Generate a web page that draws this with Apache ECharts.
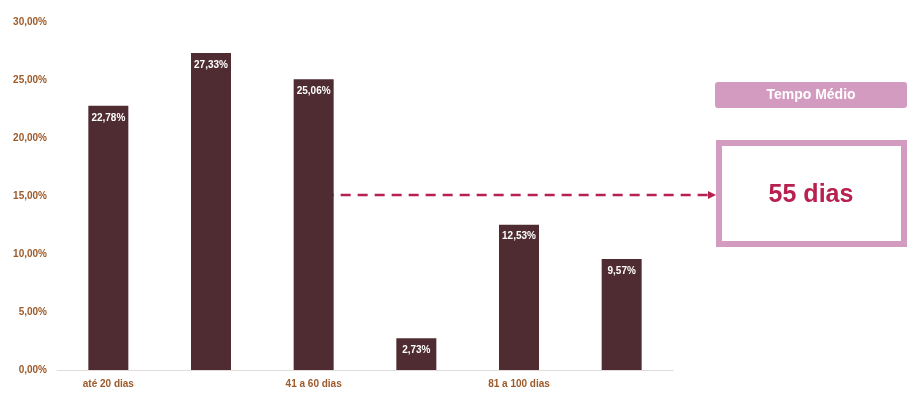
<!DOCTYPE html>
<html><head><meta charset="utf-8">
<script src="https://cdn.jsdelivr.net/npm/echarts@6/dist/echarts.min.js"></script>
<style>html,body{margin:0;padding:0;background:#fff}#c{width:920px;height:407px}</style>
</head><body><div id="c"></div>
<script>
const categories = ['até 20 dias','21 a 40 dias','41 a 60 dias','61 a 80 dias','81 a 100 dias','mais de 100 dias'];
const values = [22.78, 27.33, 25.06, 2.73, 12.53, 9.57];
const meanPct = 15; // height of the annotation line
const meanText = '55 dias';
const fmt = v => v.toFixed(2).replace('.', ',') + '%';
const chart = echarts.init(document.getElementById('c'));
const FONT = "'Liberation Sans', sans-serif";
chart.setOption({
  animation:false,
  grid:{left:57, right:247, top:22, bottom:37},
  xAxis:{type:'category', data:categories,
    axisLine:{lineStyle:{color:'#e0dcdc'}}, axisTick:{show:false},
    axisLabel:{color:'#9c5a2a', fontWeight:'bold', fontSize:10, fontFamily:FONT, margin:9}},
  yAxis:{type:'value', min:0, max:30, interval:5,
    splitLine:{show:false}, axisLine:{show:false}, axisTick:{show:false},
    axisLabel:{color:'#9c5a2a', fontWeight:'bold', fontSize:10, fontFamily:FONT, margin:10, formatter:v=>fmt(v)}},
  series:[{type:'bar', data:values, barWidth:40, itemStyle:{color:'#4f2c32'},
    label:{show:true, position:'insideTop', offset:[0,2], color:'#fff', fontWeight:'bold', fontSize:10, fontFamily:FONT, formatter:p=>fmt(p.value)}}]
});
const p = chart.convertToPixel({gridIndex:0}, [2, meanPct]);
const p0 = chart.convertToPixel({gridIndex:0}, [2, 1.5]);
const red = '#b8204f';
chart.setOption({graphic:[
  {type:'line', shape:{x1:p[0]+2, y1:p[1], x2:p0[0]+2, y2:p0[1]}, style:{stroke:'#c8265a', lineWidth:2.5, lineDash:[10,7]}},
  {type:'line', shape:{x1:p[0]+10, y1:p[1]-1, x2:710, y2:p[1]-1}, style:{stroke:red, lineWidth:2.5, lineDash:[10,7]}},
  {type:'polygon', shape:{points:[[708,p[1]-5],[716,p[1]-1],[708,p[1]+3]]}, style:{fill:red}},
  {type:'rect', shape:{x:715, y:82, width:192, height:26, r:3}, style:{fill:'#d49bc0'}},
  {type:'text', x:811, y:95, style:{text:'Tempo Médio', fill:'#fff', font:"bold 14px "+FONT, align:'center', verticalAlign:'middle'}},
  {type:'rect', shape:{x:719, y:143, width:185, height:101}, style:{fill:'#fff', stroke:'#d39bc0', lineWidth:6}},
  {type:'text', x:811, y:195, style:{text:meanText, fill:red, font:"bold 25px "+FONT, align:'center', verticalAlign:'middle'}}
]});
</script></body></html>
